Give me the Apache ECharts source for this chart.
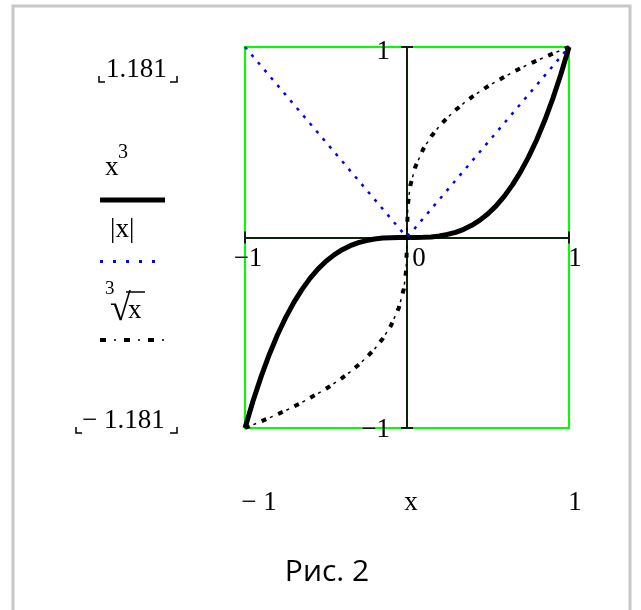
<!DOCTYPE html>
<html>
<head>
<meta charset="utf-8">
<script src="https://cdn.jsdelivr.net/npm/echarts@6/dist/echarts.min.js"></script>
<style>
  html, body { margin: 0; padding: 0; background: #ffffff; }
  #chart { width: 641px; height: 610px; }
</style>
</head>
<body>
<div id="chart"></div>
<script>
// Sample points of x, shared by all three curves (finer near zero for the cube root)
const xs = [-1, -0.95, -0.9, -0.85, -0.8, -0.75, -0.7, -0.65, -0.6, -0.55, -0.5, -0.45, -0.4, -0.35,
            -0.3, -0.25, -0.2, -0.15, -0.1, -0.05, -0.02, -0.005,
            0,
            0.005, 0.02, 0.05, 0.1, 0.15, 0.2, 0.25, 0.3, 0.35, 0.4, 0.45, 0.5, 0.55,
            0.6, 0.65, 0.7, 0.75, 0.8, 0.85, 0.9, 0.95, 1];
// x^3
const cubeVals = [-1, -0.857, -0.729, -0.614, -0.512, -0.422, -0.343, -0.275, -0.216, -0.166, -0.125, -0.091, -0.064, -0.043,
                  -0.027, -0.016, -0.008, -0.003, -0.001, -0.0001, 0, 0,
                  0,
                  0, 0, 0.0001, 0.001, 0.003, 0.008, 0.016, 0.027, 0.043, 0.064, 0.091, 0.125, 0.166,
                  0.216, 0.275, 0.343, 0.422, 0.512, 0.614, 0.729, 0.857, 1];
// |x|
const absVals = [1, 0.95, 0.9, 0.85, 0.8, 0.75, 0.7, 0.65, 0.6, 0.55, 0.5, 0.45, 0.4, 0.35,
                 0.3, 0.25, 0.2, 0.15, 0.1, 0.05, 0.02, 0.005,
                 0,
                 0.005, 0.02, 0.05, 0.1, 0.15, 0.2, 0.25, 0.3, 0.35, 0.4, 0.45, 0.5, 0.55,
                 0.6, 0.65, 0.7, 0.75, 0.8, 0.85, 0.9, 0.95, 1];
// cube root of x
const cbrtVals = [-1, -0.983, -0.965, -0.947, -0.928, -0.909, -0.888, -0.866, -0.843, -0.819, -0.794, -0.766, -0.737, -0.705,
                  -0.669, -0.630, -0.585, -0.531, -0.464, -0.368, -0.271, -0.171,
                  0,
                  0.171, 0.271, 0.368, 0.464, 0.531, 0.585, 0.630, 0.669, 0.705, 0.737, 0.766, 0.794, 0.819,
                  0.843, 0.866, 0.888, 0.909, 0.928, 0.947, 0.965, 0.983, 1];

// Axis ranges and tick labels
const xRange = [-1, 1];
const yRange = [-1, 1];
const xTickLabels = { '-1': '−1', '0': '0', '1': '1' };
const yTickLabels = { '-1': '−1', '1': '1' };
const rangeLabelsY = ['1.181', '− 1.181'];
const rangeLabelsX = ['− 1', 'x', '1'];
const caption = 'Рис. 2';

const serif = '"Liberation Serif", "Times New Roman", serif';
const axisColor = '#0c220c';

// plot box
const gridLeft = 245, gridTop = 47, gridW = 324, gridH = 381;

const pairs = vals => xs.map((x, i) => [x, vals[i]]);

const chart = echarts.init(document.getElementById('chart'), null, { renderer: 'canvas' });

// axes cross in the middle of the box; a pair of axes per direction gives ticks on both sides
const axisCommon = {
  type: 'value',
  axisLine: { show: true, onZero: false, lineStyle: { color: axisColor, width: 2 } },
  axisTick: { show: true, inside: true, length: 6, lineStyle: { color: axisColor, width: 2 } },
  splitLine: { show: false }
};

const option = {
  animation: false,
  backgroundColor: '#ffffff',
  grid: {
    left: gridLeft, top: gridTop, width: gridW, height: gridH,
    show: true, borderColor: '#00ff00', borderWidth: 2, backgroundColor: 'transparent'
  },
  xAxis: [
    Object.assign({}, axisCommon, {
      position: 'bottom', offset: -gridH / 2, min: xRange[0], max: xRange[1], interval: 1,
      axisLabel: {
        show: true, margin: 8, fontFamily: serif, fontSize: 27, color: '#000',
        formatter: v => {
          const t = xTickLabels[String(v)];
          if (t === undefined) return '';
          const k = v < 0 ? 'n' : (v === 0 ? 'z' : 'p');
          return '{' + k + '|' + t + '}';
        },
        rich: {
          n: { fontFamily: serif, fontSize: 27, padding: [0, 0, 0, 6] },
          z: { fontFamily: serif, fontSize: 27, padding: [0, 0, 0, 24] },
          p: { fontFamily: serif, fontSize: 27, padding: [0, 0, 0, 12] }
        }
      }
    }),
    Object.assign({}, axisCommon, {
      position: 'top', offset: -gridH / 2, min: xRange[0], max: xRange[1], interval: 1,
      axisLabel: { show: false }
    })
  ],
  yAxis: [
    Object.assign({}, axisCommon, {
      position: 'left', offset: -gridW / 2, min: yRange[0], max: yRange[1], interval: 1,
      axisLabel: {
        show: true, margin: 17, fontFamily: serif, fontSize: 27, color: '#000',
        formatter: v => {
          const t = yTickLabels[String(v)];
          if (t === undefined) return '';
          return '{' + (v > 0 ? 'p' : 'n') + '|' + t + '}';
        },
        rich: {
          p: { fontFamily: serif, fontSize: 27, padding: [10, 0, 0, 0] },
          n: { fontFamily: serif, fontSize: 27, padding: [4, 0, 0, 0] }
        }
      }
    }),
    Object.assign({}, axisCommon, {
      position: 'right', offset: -gridW / 2, min: yRange[0], max: yRange[1], interval: 1,
      axisLabel: { show: false }
    })
  ],
  series: [
    {
      name: 'x^3', type: 'line', data: pairs(cubeVals), showSymbol: false, z: 4,
      lineStyle: { color: '#000', width: 5, join: 'round' }
    },
    {
      name: '|x|', type: 'line', data: pairs(absVals), showSymbol: false, z: 5,
      lineStyle: { color: '#0000ff', width: 2.5, type: [3, 7] }
    },
    // cube root: heavy dots alternating with thin ticks
    {
      name: 'cbrt-heavy', type: 'line', data: pairs(cbrtVals), showSymbol: false, z: 3,
      lineStyle: { color: '#000', width: 4, type: [5, 13] }
    },
    {
      name: 'cbrt-light', type: 'line', data: pairs(cbrtVals), showSymbol: false, z: 3,
      lineStyle: { color: '#000', width: 1.5, type: [3, 15], dashOffset: 9 }
    }
  ],
  graphic: [
    // outer frame
    { type: 'rect', shape: { x: 13, y: 6, width: 617, height: 640 }, silent: true,
      style: { fill: 'none', stroke: '#c8c8c8', lineWidth: 3 } },
    // upper range label with corner marks
    { type: 'text', x: 106, y: 70, style: { text: rangeLabelsY[0], font: '27px ' + serif, fill: '#000', textVerticalAlign: 'middle' } },
    { type: 'polyline', shape: { points: [[99, 76], [99, 82], [105, 82]] }, style: { stroke: '#000', lineWidth: 1.5, fill: 'none' } },
    { type: 'polyline', shape: { points: [[170, 82], [177, 82], [177, 76]] }, style: { stroke: '#000', lineWidth: 1.5, fill: 'none' } },
    // lower range label with corner marks
    { type: 'text', x: 82, y: 421, style: { text: rangeLabelsY[1], font: '27px ' + serif, fill: '#000', textVerticalAlign: 'middle' } },
    { type: 'polyline', shape: { points: [[76, 427], [76, 433], [82, 433]] }, style: { stroke: '#000', lineWidth: 1.5, fill: 'none' } },
    { type: 'polyline', shape: { points: [[170, 433], [177, 433], [177, 427]] }, style: { stroke: '#000', lineWidth: 1.5, fill: 'none' } },
    // legend: x^3
    { type: 'text', x: 105, y: 168, style: { text: 'x', font: '27px ' + serif, fill: '#000', textVerticalAlign: 'middle' } },
    { type: 'text', x: 118, y: 153, style: { text: '3', font: '20px ' + serif, fill: '#000', textVerticalAlign: 'middle' } },
    { type: 'line', shape: { x1: 100, y1: 200, x2: 165, y2: 200 }, style: { stroke: '#000', lineWidth: 5 } },
    // legend: |x|
    { type: 'text', x: 110, y: 230, style: { text: '|x|', font: '27px ' + serif, fill: '#000', textVerticalAlign: 'middle' } },
    { type: 'line', shape: { x1: 100, y1: 261.5, x2: 157, y2: 261.5 }, style: { stroke: '#0000ff', lineWidth: 3, lineDash: [3, 10] } },
    // legend: cube root
    { type: 'text', x: 105, y: 289, style: { text: '3', font: '19px ' + serif, fill: '#000', textVerticalAlign: 'middle' } },
    { type: 'text', x: 110, y: 310, style: { text: '√', font: '38px ' + serif, fill: '#000', textVerticalAlign: 'middle' } },
    { type: 'text', x: 128, y: 311, style: { text: 'x', font: '27px ' + serif, fill: '#000', textVerticalAlign: 'middle' } },
    { type: 'line', shape: { x1: 126, y1: 292, x2: 145, y2: 292 }, style: { stroke: '#000', lineWidth: 1.5 } },
    { type: 'line', shape: { x1: 100, y1: 340, x2: 165, y2: 340 }, style: { stroke: '#000', lineWidth: 4, lineDash: [6, 18] } },
    { type: 'line', shape: { x1: 100, y1: 340, x2: 165, y2: 340 }, style: { stroke: '#000', lineWidth: 1.5, lineDash: [2, 22], lineDashOffset: 10 } },
    // x range labels below the plot
    { type: 'text', x: 259, y: 503, style: { text: rangeLabelsX[0], font: '27px ' + serif, fill: '#000', textAlign: 'center', textVerticalAlign: 'middle' } },
    { type: 'text', x: 411, y: 503, style: { text: rangeLabelsX[1], font: '27px ' + serif, fill: '#000', textAlign: 'center', textVerticalAlign: 'middle' } },
    { type: 'text', x: 575, y: 503, style: { text: rangeLabelsX[2], font: '27px ' + serif, fill: '#000', textAlign: 'center', textVerticalAlign: 'middle' } },
    // caption
    { type: 'text', x: 327, y: 572, style: { text: caption, font: '30px "Open Sans", "Noto Sans", sans-serif', fill: '#000', textAlign: 'center', textVerticalAlign: 'middle' } }
  ]
};

chart.setOption(option);
</script>
</body>
</html>
